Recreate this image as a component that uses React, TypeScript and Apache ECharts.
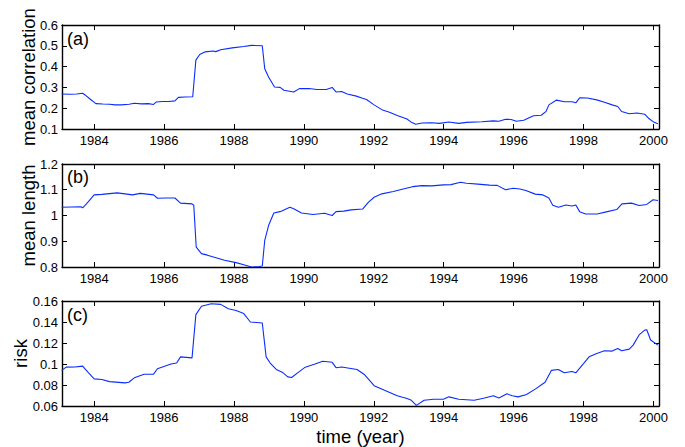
import React, { useEffect, useRef } from "react";
import * as echarts from "echarts";

// ---- data ----
const yearTicks = [1984, 1986, 1988, 1990, 1992, 1994, 1996, 1998, 2000];

const corrTime = [1983.07,1983.3,1983.5,1983.67,1983.73,1983.89,1984.05,1984.25,1984.44,1984.6,1984.77,1985.0,1985.15,1985.35,1985.55,1985.7,1985.78,1985.95,1986.14,1986.31,1986.41,1986.6,1986.82,1986.91,1987.02,1987.18,1987.4,1987.48,1987.62,1987.95,1988.28,1988.5,1988.81,1988.88,1988.99,1989.16,1989.32,1989.43,1989.71,1989.87,1990.15,1990.37,1990.64,1990.81,1990.92,1991.08,1991.24,1991.5,1991.68,1991.79,1992.01,1992.23,1992.45,1992.67,1992.95,1993.06,1993.2,1993.38,1993.66,1993.88,1994.15,1994.43,1994.65,1995.09,1995.42,1995.58,1995.77,1995.93,1996.08,1996.29,1996.57,1996.79,1996.93,1997.01,1997.23,1997.45,1997.67,1997.78,1997.89,1998.11,1998.38,1998.6,1998.82,1998.98,1999.09,1999.31,1999.53,1999.75,1999.86,2000.02,2000.13];
const corrValue = [0.268,0.267,0.268,0.272,0.265,0.243,0.222,0.22,0.219,0.216,0.216,0.219,0.224,0.221,0.222,0.218,0.23,0.232,0.232,0.235,0.252,0.254,0.255,0.431,0.458,0.471,0.475,0.472,0.481,0.49,0.497,0.502,0.5,0.39,0.35,0.302,0.3,0.286,0.278,0.294,0.295,0.29,0.29,0.3,0.278,0.28,0.268,0.258,0.248,0.242,0.216,0.193,0.181,0.165,0.148,0.134,0.123,0.129,0.13,0.127,0.134,0.127,0.132,0.135,0.139,0.137,0.147,0.146,0.137,0.142,0.164,0.166,0.185,0.216,0.239,0.231,0.231,0.226,0.25,0.249,0.24,0.229,0.216,0.208,0.184,0.173,0.177,0.171,0.152,0.132,0.125];

const lenTime = [1983.07,1983.62,1983.67,1983.78,1984.0,1984.22,1984.66,1985.1,1985.32,1985.7,1985.81,1986.05,1986.31,1986.47,1986.8,1986.85,1986.92,1987.07,1987.24,1987.51,1987.73,1988.06,1988.28,1988.5,1988.72,1988.81,1988.88,1988.99,1989.14,1989.32,1989.6,1989.71,1989.93,1990.26,1990.59,1990.81,1990.92,1991.14,1991.35,1991.68,1991.85,1992.01,1992.23,1992.56,1992.84,1993.11,1993.38,1993.66,1993.99,1994.21,1994.48,1994.65,1994.98,1995.31,1995.53,1995.77,1995.99,1996.18,1996.35,1996.62,1996.84,1997.01,1997.12,1997.28,1997.5,1997.67,1997.78,1997.89,1998.06,1998.39,1998.62,1998.95,1999.1,1999.37,1999.59,1999.81,1999.99,2000.13];
const lenValue = [1.032,1.034,1.03,1.045,1.08,1.082,1.088,1.08,1.086,1.08,1.067,1.068,1.068,1.048,1.045,1.04,0.877,0.852,0.846,0.835,0.826,0.817,0.809,0.8,0.802,0.804,0.903,0.961,1.01,1.015,1.032,1.026,1.01,1.004,1.009,1.0,1.015,1.017,1.022,1.025,1.052,1.071,1.084,1.093,1.103,1.112,1.116,1.115,1.119,1.12,1.129,1.125,1.122,1.118,1.117,1.1,1.106,1.103,1.097,1.083,1.08,1.068,1.04,1.032,1.041,1.037,1.041,1.015,1.006,1.006,1.013,1.023,1.045,1.048,1.039,1.043,1.061,1.058];

const riskTime = [1983.07,1983.2,1983.45,1983.67,1983.84,1984.0,1984.22,1984.44,1984.88,1984.99,1985.15,1985.43,1985.7,1985.81,1986.2,1986.36,1986.47,1986.8,1986.91,1987.07,1987.35,1987.62,1987.84,1988.06,1988.28,1988.47,1988.81,1988.92,1989.05,1989.21,1989.38,1989.54,1989.65,1989.82,1990.04,1990.32,1990.54,1990.81,1990.92,1991.08,1991.52,1991.74,1992.01,1992.34,1992.67,1992.95,1993.06,1993.22,1993.44,1993.71,1993.99,1994.15,1994.43,1994.87,1995.14,1995.42,1995.58,1995.81,1995.96,1996.13,1996.37,1996.62,1996.9,1997.08,1997.28,1997.45,1997.67,1997.78,1998.0,1998.16,1998.38,1998.6,1998.82,1998.98,1999.09,1999.31,1999.42,1999.59,1999.75,1999.81,1999.92,2000.13];
const riskValue = [0.0939,0.097,0.0972,0.098,0.0916,0.0858,0.0852,0.0832,0.082,0.0826,0.0868,0.0903,0.0903,0.0955,0.1,0.101,0.1068,0.1058,0.147,0.155,0.1574,0.1568,0.1526,0.151,0.148,0.14,0.139,0.1068,0.1003,0.0948,0.0922,0.0877,0.0871,0.0916,0.097,0.1,0.1026,0.1016,0.0965,0.0971,0.0948,0.0897,0.0794,0.0745,0.0697,0.0671,0.0658,0.0606,0.0655,0.0665,0.0665,0.0687,0.0665,0.0655,0.0674,0.0697,0.0677,0.0716,0.0697,0.0687,0.071,0.0761,0.0826,0.0939,0.0948,0.0916,0.0929,0.0916,0.1003,0.1068,0.11,0.1126,0.1123,0.1148,0.1126,0.1142,0.118,0.1277,0.1323,0.1326,0.1229,0.118];

const panelLabels = ["(a)", "(b)", "(c)"];
const yNames = ["mean correlation", "mean length", "risk"];
const yRanges = [
  { min: 0.1, max: 0.6, interval: 0.1 },
  { min: 0.8, max: 1.2, interval: 0.1 },
  { min: 0.06, max: 0.16, interval: 0.02 },
];
const xLabel = "time (year)";

const FONT = "'Liberation Sans', Arial, Helvetica, sans-serif";

export default function App() {
  const ref = useRef<HTMLDivElement>(null);

  useEffect(() => {
    if (!ref.current) return;
    const chart = echarts.init(ref.current, null, { renderer: "svg" });

    const grids = [
      { left: 62, right: 26, top: 25, height: 104 },
      { left: 62, right: 26, top: 164, height: 103 },
      { left: 62, right: 26, top: 301, height: 105 },
    ];
    const xMin = 1983.08;
    const xMax = 2000.16;
    const lineStyle = { color: "#000", width: 1.4 };
    const tickStyle = { color: "#000", width: 1 };

    const xAxis: any[] = [];
    const yAxis: any[] = [];
    grids.forEach((_, i) => {
      xAxis.push({
        type: "value", gridIndex: i, position: "bottom", min: xMin, max: xMax,
        axisLine: { show: true, lineStyle },
        axisTick: { show: true, inside: true, length: 5, lineStyle: tickStyle, customValues: yearTicks },
        axisLabel: { show: true, customValues: yearTicks, color: "#000", fontFamily: FONT, fontSize: 13, margin: 5, formatter: (v: number) => String(Math.round(v)) },
        splitLine: { show: false },
      });
      xAxis.push({
        type: "value", gridIndex: i, position: "top", min: xMin, max: xMax,
        axisLine: { show: true, lineStyle },
        axisTick: { show: true, inside: true, length: 5, lineStyle: tickStyle, customValues: yearTicks },
        axisLabel: { show: false },
        splitLine: { show: false },
      });
      const r = yRanges[i];
      yAxis.push({
        type: "value", gridIndex: i, position: "left", min: r.min, max: r.max, interval: r.interval,
        axisLine: { show: true, lineStyle },
        axisTick: { show: true, inside: true, length: 5, lineStyle: tickStyle },
        axisLabel: { show: true, color: "#000", fontFamily: FONT, fontSize: 13, margin: 4, formatter: (v: number) => String(parseFloat(v.toFixed(2))) },
        splitLine: { show: false },
      });
      yAxis.push({
        type: "value", gridIndex: i, position: "right", min: r.min, max: r.max, interval: r.interval,
        axisLine: { show: true, lineStyle },
        axisTick: { show: true, inside: true, length: 5, lineStyle: tickStyle },
        axisLabel: { show: false },
        splitLine: { show: false },
      });
    });

    const mk = (t: number[], v: number[]) => t.map((x, k) => [x, v[k]]);
    const seriesData = [mk(corrTime, corrValue), mk(lenTime, lenValue), mk(riskTime, riskValue)];
    const series = seriesData.map((d, i) => ({
      type: "line", xAxisIndex: i * 2, yAxisIndex: i * 2, data: d,
      showSymbol: false, symbol: "none",
      lineStyle: { color: "#0a2cff", width: 1.1 },
      clip: true,
    }));

    const graphic: any[] = [];
    const labelTops = [30, 168, 306];
    panelLabels.forEach((t, i) => {
      graphic.push({ type: "text", left: 67, top: labelTops[i], style: { text: t, font: `18px ${FONT}`, fill: "#000" } });
    });
    const nameX = [28, 28, 20];
    yNames.forEach((t, i) => {
      const g = grids[i];
      graphic.push({
        type: "text", x: nameX[i], y: g.top + g.height / 2, rotation: Math.PI / 2,
        style: { text: t, font: `18.5px ${FONT}`, fill: "#000", align: "center", verticalAlign: "middle" },
      });
    });
    graphic.push({
      type: "text", x: 360.5, y: 436,
      style: { text: xLabel, font: `18.5px ${FONT}`, fill: "#000", align: "center", verticalAlign: "middle" },
    });

    chart.setOption({
      animation: false,
      backgroundColor: "#fff",
      grid: grids,
      xAxis,
      yAxis,
      series,
      graphic,
    });
    return () => chart.dispose();
  }, []);

  return <div ref={ref} style={{ position: "fixed", left: 0, top: 0, width: 685, height: 447 }} />;
}
